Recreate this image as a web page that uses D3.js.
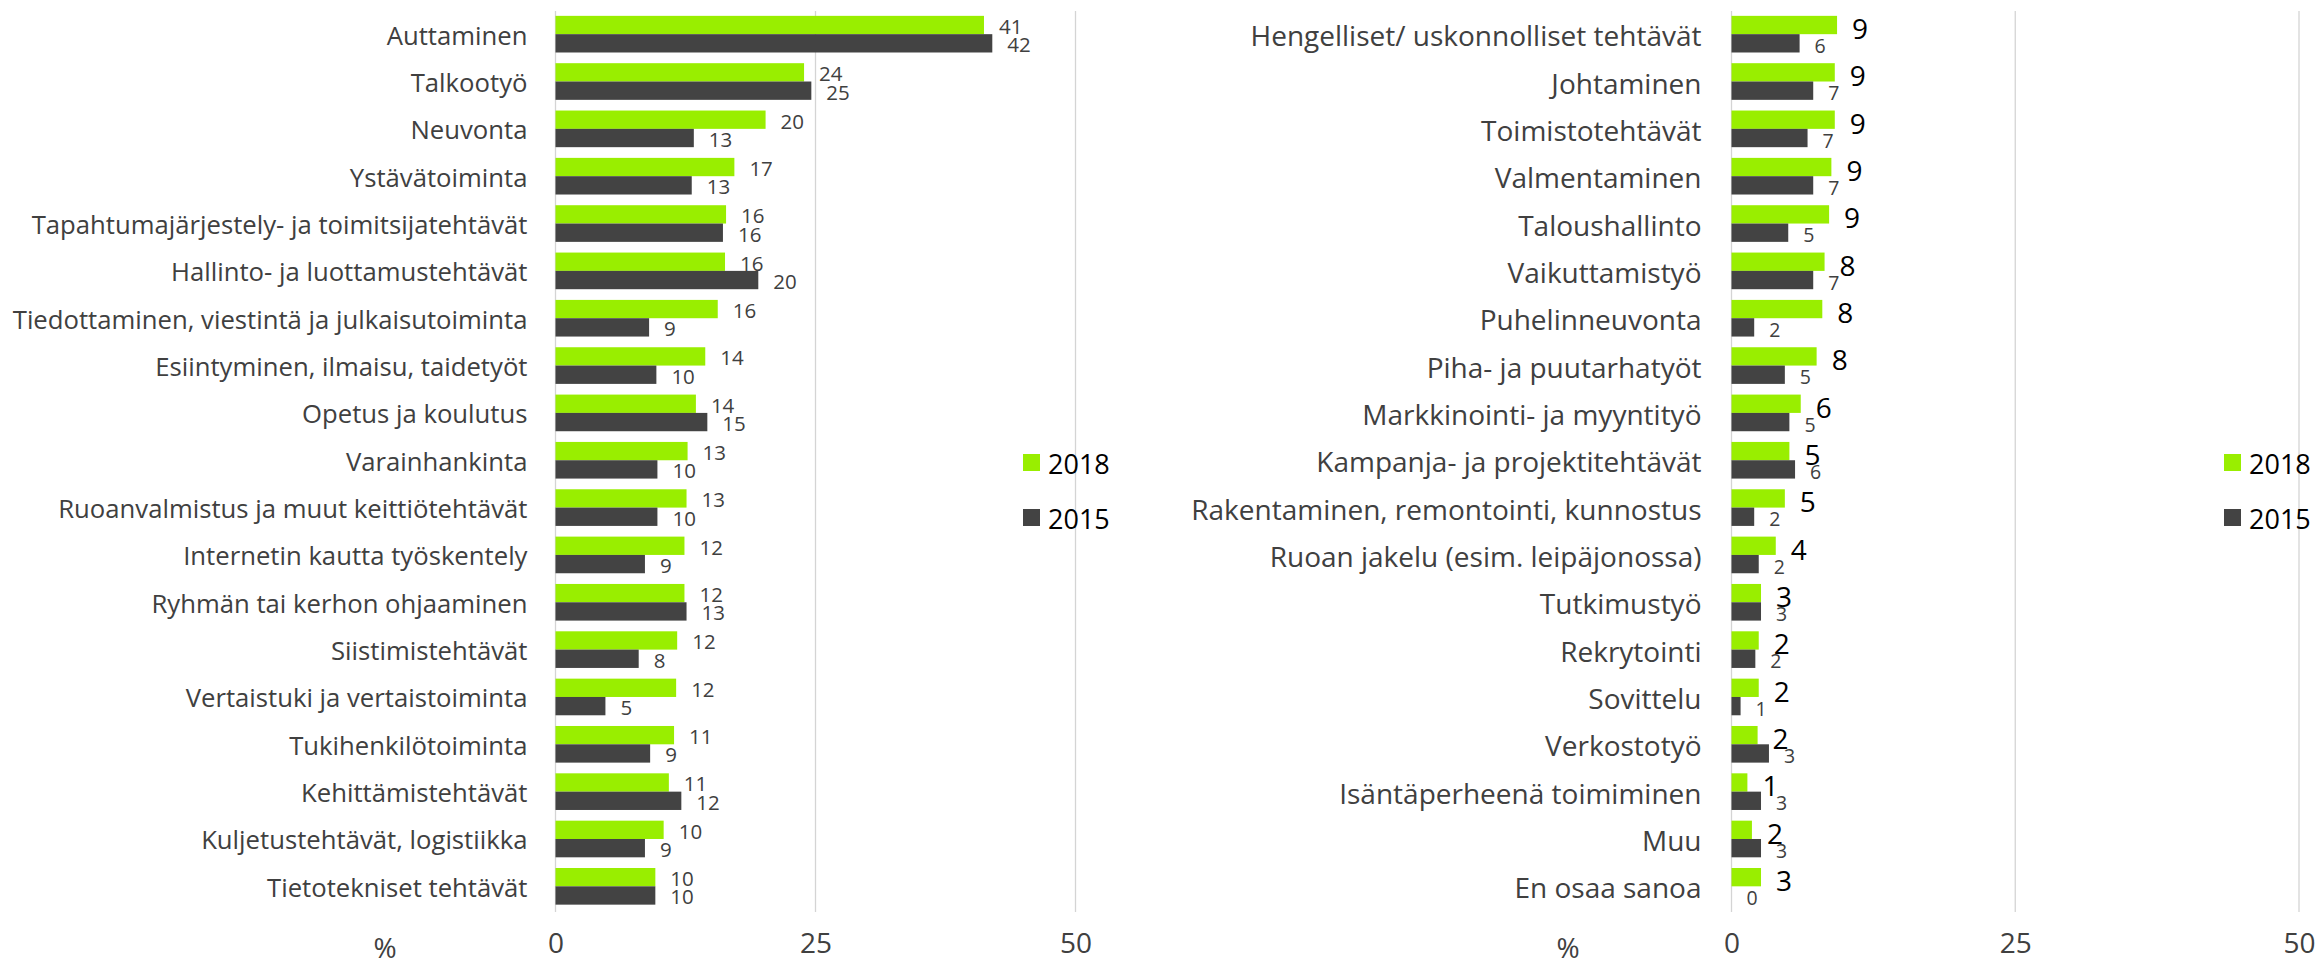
<!DOCTYPE html>
<meta charset="utf-8">
<style>
body { margin: 0; background: #fff; }
.cat { font-family: "Open Sans", Lato, sans-serif; fill: #404040; }
.val { font-family: "Open Sans", Lato, sans-serif; fill: #404040; }
.tick text, .pct { font-family: "Open Sans", Lato, sans-serif; font-size: 28px; fill: #404040; }
.legend text { font-family: "Open Sans", Lato, sans-serif; font-size: 27px; fill: #000; }
.grid line { stroke: #d4d4d4; stroke-width: 1.3px; }
</style>
<svg width="2315" height="965"></svg>
<script src="https://cdn.jsdelivr.net/npm/d3@7"></script>
<script>

// left panel
var leftCategories = ["Auttaminen", "Talkootyö", "Neuvonta", "Ystävätoiminta",
  "Tapahtumajärjestely- ja toimitsijatehtävät", "Hallinto- ja luottamustehtävät",
  "Tiedottaminen, viestintä ja julkaisutoiminta", "Esiintyminen, ilmaisu, taidetyöt",
  "Opetus ja koulutus", "Varainhankinta", "Ruoanvalmistus ja muut keittiötehtävät",
  "Internetin kautta työskentely", "Ryhmän tai kerhon ohjaaminen", "Siistimistehtävät",
  "Vertaistuki ja vertaistoiminta", "Tukihenkilötoiminta", "Kehittämistehtävät",
  "Kuljetustehtävät, logistiikka", "Tietotekniset tehtävät"];
var left2018 = [41.2, 23.9, 20.2, 17.2, 16.4, 16.3, 15.6, 14.4, 13.5, 12.7, 12.6, 12.4, 12.4, 11.7, 11.6, 11.4, 10.9, 10.4, 9.6];
var left2015 = [42.0, 24.6, 13.3, 13.1, 16.1, 19.5, 9.0, 9.7, 14.6, 9.8, 9.8, 8.6, 12.6, 8.0, 4.8, 9.1, 12.1, 8.6, 9.6];

// right panel
var rightCategories = ["Hengelliset/ uskonnolliset tehtävät", "Johtaminen", "Toimistotehtävät",
  "Valmentaminen", "Taloushallinto", "Vaikuttamistyö", "Puhelinneuvonta", "Piha- ja puutarhatyöt",
  "Markkinointi- ja myyntityö", "Kampanja- ja projektitehtävät", "Rakentaminen, remontointi, kunnostus",
  "Ruoan jakelu (esim. leipäjonossa)", "Tutkimustyö", "Rekrytointi", "Sovittelu", "Verkostotyö",
  "Isäntäperheenä toimiminen", "Muu", "En osaa sanoa"];
var right2018 = [9.3, 9.1, 9.1, 8.8, 8.6, 8.2, 8.0, 7.5, 6.1, 5.1, 4.7, 3.9, 2.6, 2.4, 2.4, 2.3, 1.4, 1.8, 2.6];
var right2015 = [6.0, 7.2, 6.7, 7.2, 5.0, 7.2, 2.0, 4.7, 5.1, 5.6, 2.0, 2.4, 2.6, 2.1, 0.8, 3.3, 2.6, 2.6, 0];

var seriesNames = ["2018", "2015"];
var colors = ["#99ee00", "#434343"];
var tickValues = [0, 25, 50];

var svg = d3.select("svg");

function drawPanel(cfg) {
  var x = d3.scaleLinear().domain([0, 50]).range([cfg.x0, cfg.x1]);
  var y = d3.scaleBand().domain(cfg.categories).range([10.5, 910])
      .paddingInner(0.226).paddingOuter(0.113);
  var sub = d3.scaleBand().domain([0, 1]).range([0, y.bandwidth()]);

  var g = svg.append("g");

  g.append("g").attr("class", "grid")
    .selectAll("line").data(tickValues).enter().append("line")
      .attr("x1", x).attr("x2", x)
      .attr("y1", 11).attr("y2", 912);

  var rows = cfg.categories.map(function(c, i) {
    return { cat: c, vals: [cfg.a[i], cfg.b[i]] };
  });

  var row = g.selectAll(".row").data(rows).enter().append("g")
      .attr("transform", function(d) { return "translate(0," + y(d.cat) + ")"; });

  row.selectAll("rect").data(function(d) { return d.vals; }).enter().append("rect")
      .attr("x", x(0))
      .attr("y", function(d, i) { return sub(i); })
      .attr("width", function(d) { return x(d) - x(0); })
      .attr("height", sub.bandwidth())
      .attr("fill", function(d, i) { return colors[i]; });

  row.selectAll("text.val").data(function(d) { return d.vals; }).enter().append("text")
      .attr("class", "val")
      .attr("x", function(d) { return x(d) + cfg.labelGap; })
      .attr("y", function(d, i) { return sub(i) + sub.bandwidth() / 2 + cfg.labelDy[i]; })
      .attr("dominant-baseline", "central")
      .style("font-size", function(d, i) { return cfg.labelSize[i] + "px"; })
      .style("fill", function(d, i) { return cfg.labelColor[i]; })
      .text(function(d) { return Math.round(d); });

  row.append("text")
      .attr("class", "cat")
      .attr("x", x(0) - cfg.catGap)
      .attr("y", y.bandwidth() / 2 + 1)
      .attr("text-anchor", "end")
      .attr("dominant-baseline", "central")
      .style("font-size", cfg.catSize + "px")
      .text(function(d) { return d.cat; });

  var axis = g.append("g")
      .attr("transform", "translate(0,932)")
      .call(d3.axisBottom(x).tickValues(tickValues).tickSize(0).tickPadding(0));
  axis.select(".domain").remove();
  axis.selectAll("text").attr("dy", "0.75em");

  g.append("text").attr("class", "pct")
      .attr("x", cfg.pctX).attr("y", 947)
      .attr("text-anchor", "middle")
      .attr("dominant-baseline", "central")
      .text("%");

  var lg = g.append("g").attr("class", "legend")
      .selectAll("g").data(seriesNames).enter().append("g")
      .attr("transform", function(d, i) { return "translate(" + cfg.legendX + "," + (454 + i * 55) + ")"; });
  lg.append("rect").attr("width", 17).attr("height", 17)
      .attr("fill", function(d, i) { return colors[i]; });
  lg.append("text").attr("x", 25).attr("y", 9)
      .attr("dominant-baseline", "central")
      .text(function(d) { return d; });
}

drawPanel({
  categories: leftCategories, a: left2018, b: left2015,
  x0: 555.5, x1: 1075.5, catGap: 28, catSize: 25.7, labelGap: 15,
  labelDy: [1, 1], labelSize: [20.5, 20.5], labelColor: ["#404040", "#404040"],
  pctX: 385, legendX: 1023
});

drawPanel({
  categories: rightCategories, a: right2018, b: right2015,
  x0: 1731.5, x1: 2299, catGap: 30, catSize: 28, labelGap: 15,
  labelDy: [3, 2], labelSize: [28, 19.5], labelColor: ["#000", "#404040"],
  pctX: 1568, legendX: 2224
});

</script>
